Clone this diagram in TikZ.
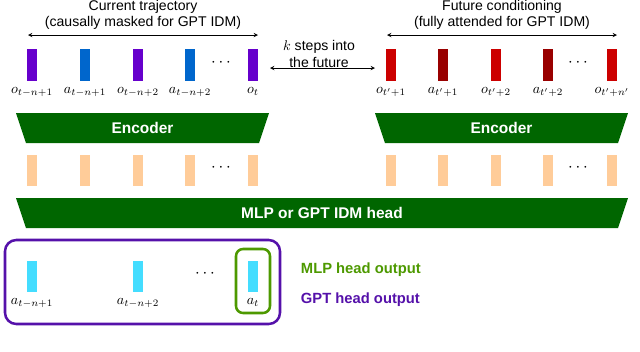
\documentclass[tikz,border=0pt]{standalone}
\usepackage{fontspec}
\setmainfont{Liberation Sans}
\setsansfont{Liberation Sans}

\definecolor{obscol}{HTML}{6600CC}
\definecolor{actcol}{HTML}{0066CC}
\definecolor{fobscol}{HTML}{CC0000}
\definecolor{factcol}{HTML}{990000}
\definecolor{embcol}{HTML}{FFCC99}
\definecolor{enccol}{HTML}{006600}
\definecolor{outcol}{HTML}{44DDFF}
\definecolor{gptcol}{HTML}{5511AA}
\definecolor{mlpcol}{HTML}{4D9900}

\begin{document}
\begin{tikzpicture}[x=0.025cm, y=-0.025cm, font=\fontsize{10}{11.5}\selectfont, >=stealth]
    \tikzset{
      bar/.style={minimum width=0.27cm, minimum height=0.82cm, inner sep=0pt},
      emb/.style={bar, fill=embcol, minimum height=0.78cm},
      outbar/.style={bar, fill=outcol, minimum height=0.78cm},
      lab/.style={below=3pt, inner sep=1pt},
      ttl/.style={align=center, inner sep=0pt},
      blk/.style={text=white, font=\fontsize{11}{13}\selectfont\bfseries},
      dts/.style={font=\large},
    }
    \useasboundingbox (0,0) rectangle (640,351);

    % titles and spans
    \node[ttl] (curttl) at (143,15) {Current trajectory\\(causally masked for GPT IDM)};
    \node[ttl] (futttl) at (502,15) {Future conditioning\\(fully attended for GPT IDM)};
    \coordinate (curl) at (28,35);
    \coordinate (curr) at (258,35);
    \coordinate (futl) at (387,35);
    \coordinate (futr) at (617,35);
    \draw[<->] (curl) -- (curr);
    \draw[<->] (futl) -- (futr);

    % current trajectory tokens
    \node[bar, fill=obscol] (o1) at (32,65) {};
    \node[bar, fill=actcol] (a1) at (85,65) {};
    \node[bar, fill=obscol] (o2) at (138,65) {};
    \node[bar, fill=actcol] (a2) at (190,65) {};
    \node[dts] (cdots) at (221,63) {$\cdots$};
    \node[bar, fill=obscol] (ot) at (253,65) {};
    \node[lab] at (o1.south) {$o_{t-n+1}$};
    \node[lab] at (a1.south) {$a_{t-n+1}$};
    \node[lab] at (o2.south) {$o_{t-n+2}$};
    \node[lab] at (a2.south) {$a_{t-n+2}$};
    \node[lab] at (ot.south) {$o_{t}$};

    % future tokens
    \node[bar, fill=fobscol] (fo1) at (391,65) {};
    \node[bar, fill=factcol] (fa1) at (443,65) {};
    \node[bar, fill=fobscol] (fo2) at (496,65) {};
    \node[bar, fill=factcol] (fa2) at (548,65) {};
    \node[dts] (fdots) at (578,63) {$\cdots$};
    \node[bar, fill=fobscol] (fon) at (612,65) {};
    \node[lab] at (fo1.south) {$o_{t'+1}$};
    \node[lab] at (fa1.south) {$a_{t'+1}$};
    \node[lab] at (fo2.south) {$o_{t'+2}$};
    \node[lab] at (fa2.south) {$a_{t'+2}$};
    \node[lab] at (fon.south) {$o_{t'+n'}$};

    \node[ttl] (kstep) at (319,54) {$k$ steps into\\the future};
    \coordinate (kl) at (270,68);
    \coordinate (kr) at (375,68);
    \draw[<->] (kl) -- (kr);

    % encoders
    \fill[enccol] (16,113) -- (269,113) -- (259,143) -- (26,143) -- cycle;
    \fill[enccol] (375,113) -- (628,113) -- (618,143) -- (385,143) -- cycle;
    \node[blk] (encl) at (142.5,128) {Encoder};
    \node[blk] (encr) at (501.5,128) {Encoder};

    % embeddings
    \node[emb] (e1) at (32,170.5) {};
    \node[emb] (e2) at (85,170.5) {};
    \node[emb] (e3) at (138,170.5) {};
    \node[emb] (e4) at (190,170.5) {};
    \node[dts] (edots) at (221,168) {$\cdots$};
    \node[emb] (e5) at (253,170.5) {};
    \node[emb] (fe1) at (391,170.5) {};
    \node[emb] (fe2) at (443,170.5) {};
    \node[emb] (fe3) at (496,170.5) {};
    \node[emb] (fe4) at (548,170.5) {};
    \node[dts] (fedots) at (578,168) {$\cdots$};
    \node[emb] (fe5) at (612,170.5) {};

    % head
    \fill[enccol] (16,198) -- (628,198) -- (618,228) -- (26,228) -- cycle;
    \node[blk] (head) at (322,213) {MLP or GPT IDM head};

    % outputs
    \draw[gptcol, line width=1.8pt, rounded corners=8pt] (5,240) rectangle (280,324);
    \node[outbar] (p1) at (32,276.5) {};
    \node[outbar] (p2) at (138,276.5) {};
    \node[dts] (pdots) at (205,274) {$\cdots$};
    \node[outbar] (pt) at (253,276.5) {};
    \node[lab] at (p1.south) {$a_{t-n+1}$};
    \node[lab] at (p2.south) {$a_{t-n+2}$};
    \node[lab] at (pt.south) {$a_{t}$};
    \draw[mlpcol, line width=1.8pt, rounded corners=5pt] (236,249) rectangle (270,313);

    \node[anchor=west, text=mlpcol, font=\fontsize{10.5}{12}\selectfont\bfseries] (mlpout) at (296,270) {MLP head output};
    \node[anchor=west, text=gptcol, font=\fontsize{10.5}{12}\selectfont\bfseries] (gptout) at (296,300) {GPT head output};
  \end{tikzpicture}
\end{document}
